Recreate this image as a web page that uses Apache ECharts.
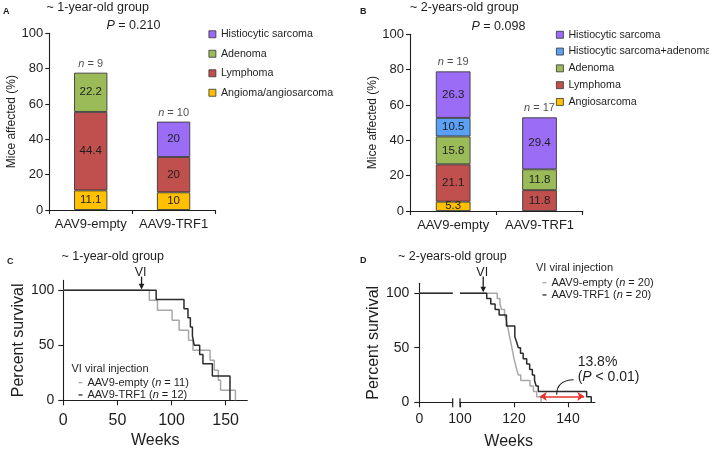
<!DOCTYPE html>
<html><head><meta charset="utf-8">
<script src="https://cdn.jsdelivr.net/npm/echarts@6/dist/echarts.min.js"></script>
<style>html,body{margin:0;padding:0;background:#fff}#c{width:709px;height:453px}</style>
</head><body><div id="c"></div>
<script>
const FONT = '"Liberation Sans", Arial, Helvetica, sans-serif';
const INK = '#1e1e1e';

// ---------- Panels A & B : stacked bars ----------
const barCategories = ['AAV9-empty', 'AAV9-TRF1'];
const barYTicks = [0, 20, 40, 60, 80, 100];
const aAngioma = [11.1, 10];
const aLymphoma = [44.4, 20];
const aAdenoma = [22.2, 0];
const aHistio = [0, 20];
const aN = [9, 10];
const aTitle = '~ 1-year-old group';
const aP = '0.210';

const bAngio = [5.3, 0];
const bLymphoma = [21.1, 11.8];
const bAdenoma = [15.8, 11.8];
const bHistioAdenoma = [10.5, 0];
const bHistio = [26.3, 29.4];
const bN = [19, 17];
const bTitle = '~ 2-years-old group';
const bP = '0.098';

// ---------- Panel C : survival, 1-year-old group ----------
const cXTicks = [0, 50, 100, 150];
const survYTicks = [0, 50, 100];
const cEmptyWeeks = [0, 79.5, 87, 100.5, 107, 115.7, 119.8, 135.6, 139.5, 143.2, 145.3, 159];
const cEmptySurv  = [100, 90.9, 81.8, 72.7, 63.6, 54.5, 45.5, 36.4, 27.3, 18.2, 9.1, 0];
const cTrfWeeks = [0, 85.8, 111.5, 115.2, 117.4, 119.3, 121, 126, 129, 137.7, 154];
const cTrfSurv  = [100, 91.7, 83.3, 75, 66.7, 58.3, 50, 41.7, 33.3, 22, 0];
const cInjectionWeek = 72.3;
const cNames = ['AAV9-empty (n = 11)', 'AAV9-TRF1 (n = 12)'];

// ---------- Panel D : survival, 2-years-old group ----------
const dXTicks = [100, 120, 140];
const dPreWeeks = [0, 12];
const dPreSurv = [100, 100];
const dEmptyWeeks = [100, 113.8, 114.8, 115.4, 116.5, 117.2, 117.6, 118, 118.4, 118.8, 119.2, 119.6, 120, 120.5, 121, 121.6, 122.5, 125.9, 127.2, 128.4, 130];
const dEmptySurv  = [100, 95, 90, 85, 80, 75, 70, 65, 60, 55, 50, 45, 40, 35, 30, 25, 20, 15, 10, 5, 0];
const dTrfWeeks = [100, 109.9, 111.4, 113, 114.5, 117.2, 120.3, 121, 121.6, 122.4, 123.4, 124.7, 125.8, 126.8, 127.6, 128.2, 129, 146.9, 148.6];
const dTrfSurv  = [100, 95, 90, 85, 80, 70, 60, 55, 50, 45, 40, 35, 30, 25, 20, 15, 10, 5, 0];
const dInjectionWeek = 108.6;
const dNames = ['AAV9-empty (n = 20)', 'AAV9-TRF1 (n = 20)'];
const dGainWeeks = [129.6, 146];
const dGainLevel = 5.5;
const dGainLeaderWeek = 135.8;
const dGainText = ['13.8%', '{i|P} < 0.01)'];

const COLORS = {
  histio: '#9b6cf6', histioAd: '#5aa0f5', adenoma: '#9bbb59',
  lymphoma: '#c0504d', angio: '#ffc000', grey: '#a8a8a8', dark: '#2b2b2b', red: '#e8302c'
};

const chart = echarts.init(document.getElementById('c'), null, {renderer: 'canvas'});

const axisLine = {show: true, lineStyle: {color: INK, width: 1.1}};
const tick = (len) => ({show: true, length: len, lineStyle: {color: INK, width: 1.1}});

function zip(xs, ys) { return xs.map((x, i) => [x, ys[i]]); }

function barSeries(name, color, arr, stackId, idx, width) {
  return {
    type: 'bar', name, stack: stackId, xAxisIndex: idx, yAxisIndex: idx,
    barWidth: width,
    data: arr.map(v => (v === 0 ? '-' : v)),
    itemStyle: {color, borderColor: '#3a3a3a', borderWidth: 0.9},
    label: {show: true, position: 'inside', fontSize: 11.5, color: INK, fontFamily: FONT,
      formatter: p => String(p.value)},
    emphasis: {disabled: true}, silent: true
  };
}
function nSeries(idx, totals, ns) {
  return {
    type: 'scatter', name: 'n' + idx, xAxisIndex: idx, yAxisIndex: idx,
    symbolSize: 1, itemStyle: {color: 'transparent'}, silent: true, z: 10,
    data: totals.map((t, i) => [i, t]),
    label: {show: true, position: 'top', distance: 3, fontSize: 11, color: INK, fontFamily: FONT,
      formatter: p => '{i|n} = ' + ns[p.dataIndex],
      rich: {i: {fontStyle: 'italic', fontSize: 11, color: INK, fontFamily: FONT}}}
  };
}
function kmSeries(name, color, xs, ys, idx, extra) {
  return Object.assign({
    type: 'line', name, xAxisIndex: idx, yAxisIndex: idx, step: 'end',
    showSymbol: false, symbol: 'none', data: zip(xs, ys),
    color, itemStyle: {color}, lineStyle: {color, width: 1.5},
    emphasis: {disabled: true}, silent: true
  }, extra || {});
}

const aTotals = barCategories.map((_, i) => aAngioma[i] + aLymphoma[i] + aAdenoma[i] + aHistio[i]);
const bTotals = barCategories.map((_, i) => bAngio[i] + bLymphoma[i] + bAdenoma[i] + bHistioAdenoma[i] + bHistio[i]);

const catAxis = (gi) => ({
  type: 'category', gridIndex: gi, data: barCategories,
  axisLine, axisTick: tick(4),
  axisLabel: {fontSize: 13, margin: 8, color: INK, fontFamily: FONT, interval: 0},
  splitLine: {show: false}
});
const barYAxis = (gi) => ({
  type: 'value', gridIndex: gi, min: 0, max: 100,
  axisLine, axisTick: Object.assign(tick(4), {customValues: barYTicks}),
  axisLabel: {fontSize: 13, margin: 6, color: INK, fontFamily: FONT, customValues: barYTicks},
  splitLine: {show: false},
  name: 'Mice affected (%)', nameLocation: 'middle', nameGap: 31,
  nameTextStyle: {fontSize: 12, color: INK, fontFamily: FONT}
});
const survYAxis = (gi, margin) => ({
  type: 'value', gridIndex: gi, min: 0, max: 109,
  axisLine, axisTick: Object.assign(tick(5), {customValues: survYTicks}),
  axisLabel: {fontSize: 14, margin, color: INK, fontFamily: FONT, customValues: survYTicks},
  splitLine: {show: false},
  name: 'Percent survival', nameLocation: 'middle', nameGap: 37,
  nameTextStyle: {fontSize: 16, color: INK, fontFamily: FONT}
});

const legendText = {fontSize: 11, color: INK, fontFamily: FONT, lineHeight: 12.3,
  rich: {i: {fontStyle: 'italic', fontSize: 11, color: INK, fontFamily: FONT, lineHeight: 12.3}}};

const option = {
  animation: false,
  backgroundColor: '#fff',
  textStyle: {fontFamily: FONT},
  grid: [
    {left: 49.3, top: 33.3, width: 165.7, height: 176.7, containLabel: false, outerBoundsMode: 'none'},
    {left: 410, top: 34.3, width: 172.7, height: 176.7, containLabel: false, outerBoundsMode: 'none'},
    {left: 63.3, top: 280.4, width: 184, height: 119.9, containLabel: false, outerBoundsMode: 'none'},
    {left: 419.3, top: 283.3, width: 33.4, height: 119, containLabel: false, outerBoundsMode: 'none'},
    {left: 460, top: 283.3, width: 135, height: 119, containLabel: false, outerBoundsMode: 'none'}
  ],
  xAxis: [
    catAxis(0), catAxis(1),
    {type: 'value', gridIndex: 2, min: 0, max: 170,
      axisLine, axisTick: Object.assign(tick(5), {customValues: cXTicks}),
      axisLabel: {fontSize: 16, margin: 12, color: INK, fontFamily: FONT, customValues: cXTicks},
      splitLine: {show: false},
      name: 'Weeks', nameLocation: 'middle', nameGap: 32,
      nameTextStyle: {fontSize: 16, color: INK, fontFamily: FONT}},
    {type: 'value', gridIndex: 3, min: 0, max: 12,
      axisLine, axisTick: Object.assign(tick(5), {customValues: [0]}),
      axisLabel: {fontSize: 14, margin: 10, color: INK, fontFamily: FONT, customValues: [0]},
      splitLine: {show: false}},
    {type: 'value', gridIndex: 4, min: 100, max: 150,
      axisLine, axisTick: Object.assign(tick(5), {customValues: dXTicks}),
      axisLabel: {fontSize: 14, margin: 10, color: INK, fontFamily: FONT, customValues: dXTicks},
      splitLine: {show: false}}
  ],
  yAxis: [
    barYAxis(0), barYAxis(1),
    survYAxis(2, 9), survYAxis(3, 10),
    {type: 'value', gridIndex: 4, min: 0, max: 109, show: false, splitLine: {show: false}}
  ],
  legend: [
    {data: ['Histiocytic sarcoma', 'Adenoma', 'Lymphoma', 'Angioma/angiosarcoma'],
      orient: 'vertical', left: 203.5, top: 23, itemWidth: 7, itemHeight: 7, itemGap: 7,
      icon: 'rect', selectedMode: false,
      itemStyle: {borderColor: '#333', borderWidth: 0.8},
      textStyle: {fontSize: 10.7, color: INK, fontFamily: FONT, lineHeight: 12.5}},
    {data: ['Histiocytic sarcoma', 'Histiocytic sarcoma+adenoma', 'Adenoma', 'Lymphoma', 'Angiosarcoma'],
      orient: 'vertical', left: 551, top: 23.5, itemWidth: 7, itemHeight: 7, itemGap: 4.3,
      icon: 'rect', selectedMode: false,
      itemStyle: {borderColor: '#333', borderWidth: 0.8},
      textStyle: {fontSize: 10.7, color: INK, fontFamily: FONT, lineHeight: 12.5}},
    {data: cNames, orient: 'vertical', left: 73.5, top: 371.5, itemWidth: 4, itemHeight: 1.3,
      itemGap: 0, icon: 'rect', selectedMode: false, itemStyle: {borderWidth: 0},
      formatter: n => n.replace('(n =', '({i|n} ='), textStyle: legendText},
    {data: dNames, orient: 'vertical', left: 537.5, top: 271.5, itemWidth: 4, itemHeight: 1.3,
      itemGap: 0, icon: 'rect', selectedMode: false, itemStyle: {borderWidth: 0},
      formatter: n => n.replace('(n =', '({i|n} ='), textStyle: legendText}
  ],
  series: [
    barSeries('Angioma/angiosarcoma', COLORS.angio, aAngioma, 'A', 0, 33.3),
    barSeries('Lymphoma', COLORS.lymphoma, aLymphoma, 'A', 0, 33.3),
    barSeries('Adenoma', COLORS.adenoma, aAdenoma, 'A', 0, 33.3),
    barSeries('Histiocytic sarcoma', COLORS.histio, aHistio, 'A', 0, 33.3),
    nSeries(0, aTotals, aN),
    barSeries('Angiosarcoma', COLORS.angio, bAngio, 'B', 1, 34.7),
    barSeries('Lymphoma', COLORS.lymphoma, bLymphoma, 'B', 1, 34.7),
    barSeries('Adenoma', COLORS.adenoma, bAdenoma, 'B', 1, 34.7),
    barSeries('Histiocytic sarcoma+adenoma', COLORS.histioAd, bHistioAdenoma, 'B', 1, 34.7),
    barSeries('Histiocytic sarcoma', COLORS.histio, bHistio, 'B', 1, 34.7),
    nSeries(1, bTotals, bN),
    kmSeries(cNames[0], COLORS.grey, cEmptyWeeks, cEmptySurv, 2),
    kmSeries(cNames[1], COLORS.dark, cTrfWeeks, cTrfSurv, 2),
    kmSeries(dNames[0], COLORS.grey, dPreWeeks, dPreSurv, 3),
    kmSeries(dNames[1], COLORS.dark, dPreWeeks, dPreSurv, 3),
    kmSeries(dNames[0], COLORS.grey, dEmptyWeeks, dEmptySurv, 4),
    kmSeries(dNames[1], COLORS.dark, dTrfWeeks, dTrfSurv, 4, {
      markLine: {
        silent: true, symbol: ['arrow', 'arrow'], symbolSize: [7, 7],
        lineStyle: {color: COLORS.red, width: 1.6, type: 'solid'},
        label: {show: false},
        data: [[{coord: [dGainWeeks[0], dGainLevel]}, {coord: [dGainWeeks[1], dGainLevel]}]]
      }
    })
  ]
};
chart.setOption(option);

// ---------- annotations ----------
const g = [];
function txt(x, y, text, size, o) {
  o = o || {};
  g.push({type: 'text', x, y, silent: true, z: 20, style: {
    text, fill: INK, fontSize: size, fontFamily: FONT, fontWeight: o.weight || 'normal',
    align: o.align || 'left', verticalAlign: 'middle',
    textAlign: o.align || 'left', textVerticalAlign: 'middle',
    rich: {i: {fontStyle: 'italic', fontSize: size, fontFamily: FONT, fill: INK}}
  }});
}
function viArrow(gi, week, top, textY) {
  const [x, y] = chart.convertToPixel({gridIndex: gi}, [week, 100]);
  g.push({type: 'line', silent: true, z: 20, shape: {x1: x, y1: top, x2: x, y2: y - 5},
    style: {stroke: INK, lineWidth: 1.3}});
  g.push({type: 'polygon', silent: true, z: 20,
    shape: {points: [[x - 2.8, y - 6.5], [x + 2.8, y - 6.5], [x, y - 0.8]]}, style: {fill: INK}});
  txt(x - 1, textY, 'VI', 12.5, {align: 'center'});
}

// panel letters & titles
txt(3, 12, 'A', 9, {weight: 'bold'});
txt(360, 12, 'B', 9, {weight: 'bold'});
txt(7, 261.5, 'C', 9, {weight: 'bold'});
txt(360, 260.5, 'D', 9, {weight: 'bold'});
txt(46.5, 7.5, aTitle, 12.5);
txt(106.5, 26, '{i|P} = ' + aP, 12.5);
txt(410, 7.5, bTitle, 12.5);
txt(471.5, 26.5, '{i|P} = ' + bP, 12.5);
txt(61.5, 256.5, aTitle, 12.5);
txt(398, 257, bTitle, 12.5);
txt(71.5, 368.5, 'VI viral injection', 11);
txt(536, 267.5, 'VI viral injection', 11);

viArrow(2, cInjectionWeek, 276.5, 272.3);
viArrow(4, dInjectionWeek, 276.5, 272.3);

// axis break marks for panel D
const [bx1, by] = chart.convertToPixel({gridIndex: 3}, [dPreWeeks[1], 0]);
const [bx2] = chart.convertToPixel({gridIndex: 4}, [dXTicks[0], 0]);
[bx1, bx2].forEach(bx => g.push({type: 'line', silent: true, z: 20,
  shape: {x1: bx, y1: by - 4, x2: bx, y2: by + 5}, style: {stroke: INK, lineWidth: 1.2}}));

// "Weeks" for panel D, centred on the broken axis
const [dLeft] = chart.convertToPixel({gridIndex: 3}, [dPreWeeks[0], 0]);
const [dRight] = chart.convertToPixel({gridIndex: 4}, [150, 0]);
txt((dLeft + dRight) / 2 + 1.5, 441.5, 'Weeks', 16, {align: 'center'});

// leader + gain annotation
const [lx, ly] = chart.convertToPixel({gridIndex: 4}, [dGainLeaderWeek, dGainLevel]);
g.push({type: 'bezierCurve', silent: true, z: 20,
  shape: {x1: lx, y1: ly - 1.5, cpx1: lx, cpy1: ly - 16, x2: lx + 17, y2: ly - 16.5},
  style: {stroke: INK, lineWidth: 1.1, fill: null}});
txt(lx + 21, ly - 34.5, dGainText[0], 14);
txt(lx + 21, ly - 19, '(' + dGainText[1], 14);

chart.setOption({graphic: {elements: g}});
</script></body></html>
